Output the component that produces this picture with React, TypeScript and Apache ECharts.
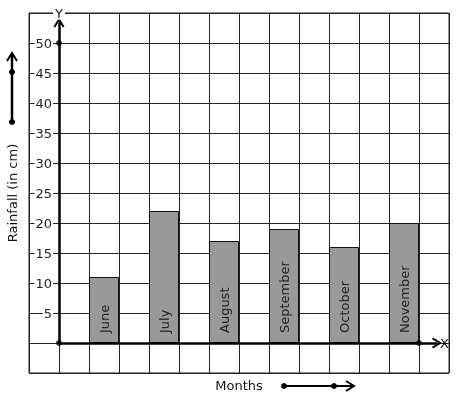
import React, { useEffect, useRef } from "react";
import * as echarts from "echarts";

const months = ["June", "July", "August", "September", "October", "November"];
const rainfall = [11, 22, 17, 19, 16, 20];
const yTickLabels = [5, 10, 15, 20, 25, 30, 35, 40, 45, 50];
const axisDots = [
  [0, 0],
  [0, 50],
  [12, 0],
];

const FONT = "DejaVu Sans";
const chevron = "path://M0,9 L5,0 L10,9 L8.4,10 L5,3.6 L1.6,10 Z";

export default function App() {
  const ref = useRef<HTMLDivElement>(null);
  useEffect(() => {
    const chart = echarts.init(ref.current!, null, { renderer: "svg" });
    const barData = months.map((m, i) => ({ name: m, value: [2 * i + 1.5, rainfall[i]] }));
    chart.setOption({
      animation: false,
      textStyle: { fontFamily: FONT },
      grid: {
        left: 29,
        top: 13,
        width: 420,
        height: 360,
        show: true,
        borderColor: "#222",
        borderWidth: 1,
        containLabel: false,
        outerBoundsMode: "none",
      },
      xAxis: {
        type: "value",
        min: -1,
        max: 13,
        interval: 1,
        axisLine: { show: false },
        axisTick: { show: false },
        axisLabel: { show: false },
        splitLine: { show: true, lineStyle: { color: "#222", width: 1 } },
        name: "Months",
        nameLocation: "middle",
        nameGap: 6,
        nameTextStyle: { fontFamily: FONT, fontSize: 13, color: "#111", verticalAlign: "top" },
      },
      yAxis: {
        type: "value",
        min: -5,
        max: 55,
        interval: 5,
        axisLine: { show: false },
        axisTick: { show: false },
        splitLine: { show: true, lineStyle: { color: "#222", width: 1 } },
        axisLabel: {
          inside: true,
          align: "right",
          margin: 24,
          fontFamily: FONT,
          fontSize: 13,
          color: "#222",
          backgroundColor: "#fff",
          padding: [0, 1, 0, 1],
          formatter: (v: number) => (yTickLabels.indexOf(v) >= 0 ? String(v) : ""),
        },
        name: "Rainfall (in cm)",
        nameLocation: "middle",
        nameRotate: 90,
        nameGap: 10,
        nameTextStyle: { fontFamily: FONT, fontSize: 13, color: "#111" },
      },
      series: [
        {
          type: "bar",
          data: barData,
          barWidth: 30,
          itemStyle: { color: "#999999", borderColor: "#111", borderWidth: 1 },
          label: {
            show: true,
            position: "insideBottom",
            rotate: 90,
            align: "left",
            verticalAlign: "middle",
            distance: 10,
            formatter: "{b}",
            fontFamily: FONT,
            fontSize: 13,
            color: "#222",
          },
          z: 2,
          markLine: {
            silent: true,
            symbol: ["none", chevron],
            symbolSize: [11, 10],
            lineStyle: { color: "#000", width: 2.5, type: "solid" },
            label: { show: false },
            data: [
              [
                { coord: [0, 0] },
                {
                  coord: [0, 53.4],
                  label: {
                    show: true,
                    position: "end",
                    formatter: "Y",
                    distance: 3,
                    fontFamily: FONT,
                    fontSize: 13,
                    color: "#111",
                    backgroundColor: "#fff",
                    padding: [0, 2, 0, 2],
                  },
                },
              ],
              [
                { coord: [0, 0] },
                {
                  coord: [12.6, 0],
                  label: {
                    show: true,
                    position: "end",
                    formatter: "X",
                    distance: 3,
                    fontFamily: FONT,
                    fontSize: 13,
                    color: "#111",
                  },
                },
              ],
            ],
          },
        },
        {
          type: "scatter",
          data: axisDots,
          symbolSize: 6,
          itemStyle: { color: "#000" },
          z: 5,
        },
      ],
      graphic: [
        { type: "line", shape: { x1: 12, y1: 122, x2: 12, y2: 55 }, style: { stroke: "#000", lineWidth: 2.5 } },
        { type: "polyline", shape: { points: [[7, 61], [12, 53], [17, 61]] }, style: { stroke: "#000", lineWidth: 2, fill: null } },
        { type: "circle", shape: { cx: 12, cy: 122, r: 3 }, style: { fill: "#000" } },
        { type: "circle", shape: { cx: 12, cy: 72, r: 3 }, style: { fill: "#000" } },
        { type: "line", shape: { x1: 284, y1: 386, x2: 352, y2: 386 }, style: { stroke: "#000", lineWidth: 2 } },
        { type: "polyline", shape: { points: [[346, 381], [354, 386], [346, 391]] }, style: { stroke: "#000", lineWidth: 2, fill: null } },
        { type: "circle", shape: { cx: 284, cy: 386, r: 3 }, style: { fill: "#000" } },
        { type: "circle", shape: { cx: 334, cy: 386, r: 3 }, style: { fill: "#000" } },
      ],
    });
    return () => chart.dispose();
  }, []);
  return <div ref={ref} style={{ position: "fixed", left: 0, top: 0, width: 457, height: 399 }} />;
}
